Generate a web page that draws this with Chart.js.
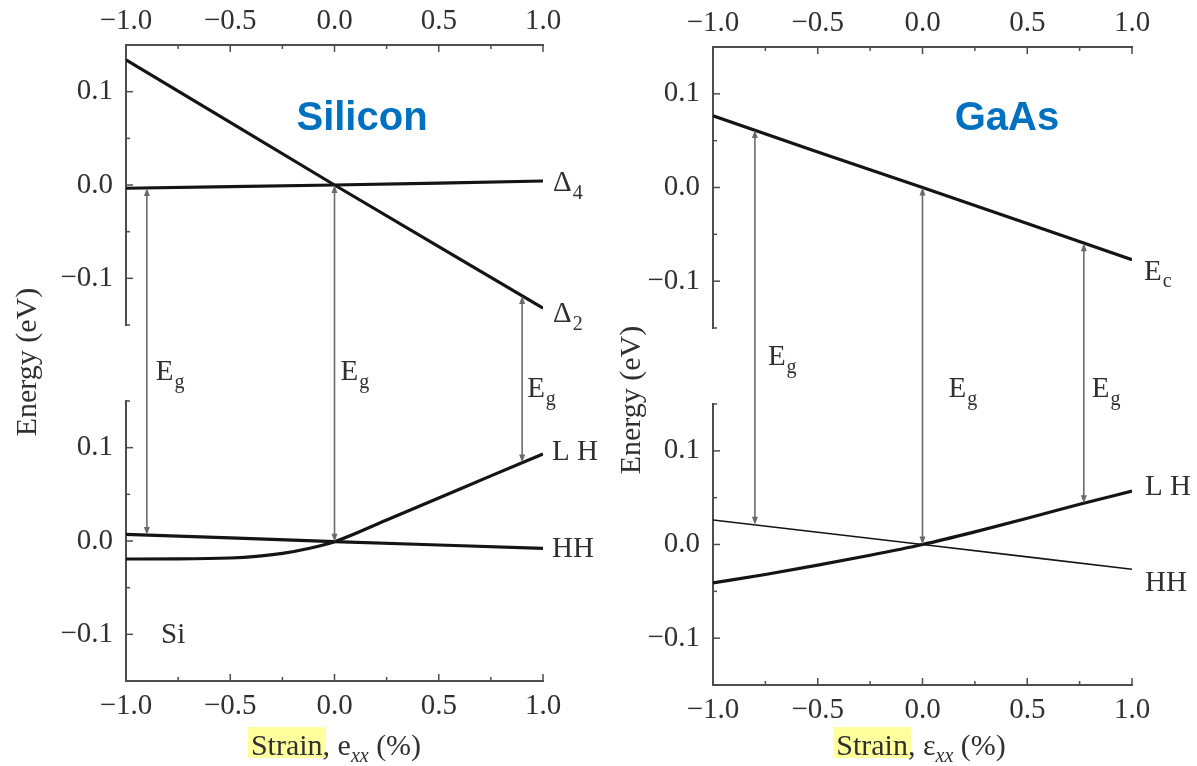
<!DOCTYPE html>
<html>
<head>
<meta charset="utf-8">
<title>Band edges versus strain: Silicon and GaAs</title>
<script src="https://cdn.jsdelivr.net/npm/chart.js@4.4.1/dist/chart.umd.min.js"></script>
<style>
  html, body { margin: 0; padding: 0; background: #ffffff; }
  body { position: relative; width: 1197px; height: 766px; overflow: hidden; }
  canvas { position: absolute; top: 0; }
  #siChart { left: 0; }
  #gaChart { left: 600px; }
</style>
</head>
<body>
<canvas id="siChart" width="600" height="766"></canvas>
<canvas id="gaChart" width="597" height="766"></canvas>
<script>
// ---- shared axis values ----
const strainTicks = [-1.0, -0.5, 0.0, 0.5, 1.0];
const energyTicks = [-0.1, 0.0, 0.1];

// ---- Silicon: conduction valleys (upper) and valence bands (lower), eV ----
const siStrain    = [-1.0, -0.5, 0.0, 0.5, 1.0];
const siDelta2    = [0.134, 0.067, 0.0, -0.066, -0.132];
const siDelta4    = [-0.0035, -0.0017, 0.0, 0.002, 0.0043];
const siHH        = [0.0072, 0.0033, -0.0007, -0.0043, -0.0078];
const siLHStrain  = [-1.0, -0.75, -0.5, -0.375, -0.25, -0.125, 0.0, 0.25, 0.5, 0.75, 1.0];
const siLH        = [-0.0193, -0.0192, -0.0182, -0.0165, -0.0133, -0.0080, -0.0007, 0.0225, 0.0460, 0.0698, 0.0932];
const siGapStrain = [-0.9, 0.0, 0.9];
const siGapTop    = [-0.0031, 0.0, -0.119];
const siGapBottom = [0.0064, -0.0007, 0.0840];

// ---- GaAs ----
const gaStrain    = [-1.0, -0.5, 0.0, 0.5, 1.0];
const gaEc        = [0.0765, 0.038, 0.0, -0.0385, -0.0772];
const gaHH        = [0.0262, 0.0131, 0.0, -0.0132, -0.0265];
const gaLHStrain  = [-1.0, -0.75, -0.5, -0.25, 0.0, 0.25, 0.5, 0.75, 1.0];
const gaLH        = [-0.041, -0.032, -0.022, -0.0115, 0.0, 0.0135, 0.028, 0.043, 0.057];
const gaGapStrain = [-0.8, 0.0, 0.77];
const gaGapTop    = [0.0614, 0.0, -0.0595];
const gaGapBottom = [0.0212, 0.0, 0.0441];

// ---- styling ----
const SERIF = "'Liberation Serif', 'Times New Roman', Times, serif";
const SANS = "'Liberation Sans', Arial, Helvetica, sans-serif";
const TEXT = '#303030';
const AXIS = '#4d4d4d';
const CURVE = '#141414';
const ARROW = '#6a6a6a';
const TITLE_BLUE = '#0070c0';
const HILITE = '#ffff9e';

const fmtTick = v => (Math.abs(v) < 1e-9 ? 0 : v).toFixed(1).replace('-', '\u2212');
const toPoints = (xs, ys) => xs.map((x, i) => ({ x, y: ys[i] }));

function xAxis(position, size, pad) {
  return {
    type: 'linear', position, min: -1, max: 1,
    afterBuildTicks: s => { s.ticks = strainTicks.map(value => ({ value })); },
    afterFit: s => { s.height = size; },
    grid: { display: false, drawTicks: false },
    border: { display: true, color: AXIS, width: 2 },
    ticks: { color: TEXT, font: { family: SERIF, size: 29 }, padding: pad,
             maxRotation: 0, autoSkip: false, callback: fmtTick }
  };
}

// the two energy windows share one stacked left axis column, with an empty spacer between
function yAxis(order, share, width) {
  return {
    type: 'linear', position: 'left', stack: 'energy', stackWeight: share, weight: order,
    min: -0.15, max: 0.15,
    afterBuildTicks: s => { s.ticks = energyTicks.map(value => ({ value })); },
    afterFit: s => { s.width = width; },
    grid: { display: false, drawTicks: false },
    border: { display: true, color: AXIS, width: 2 },
    ticks: { color: TEXT, font: { family: SERIF, size: 29 }, padding: 13, callback: fmtTick }
  };
}
function spacerAxis(share) {
  return {
    type: 'linear', position: 'left', stack: 'energy', stackWeight: share, weight: 2,
    afterFit: s => { s.width = 0; },
    grid: { display: false, drawTicks: false },
    border: { display: false },
    ticks: { display: false }
  };
}

function band(xs, ys, upper, width, smooth) {
  return {
    data: toPoints(xs, ys),
    xAxisID: upper ? 'xTop' : 'xBot',
    yAxisID: upper ? 'yU' : 'yL',
    borderColor: CURVE, borderWidth: width || 3.2,
    pointRadius: 0, fill: false,
    tension: smooth ? 0.35 : 0,
    cubicInterpolationMode: smooth ? 'monotone' : 'default'
  };
}

function subText(ctx, x, y, main, sub, size) {
  ctx.font = `${size}px ${SERIF}`;
  ctx.fillText(main, x, y);
  if (!sub) return;
  const w = ctx.measureText(main).width;
  ctx.font = `${Math.round(size * 0.68)}px ${SERIF}`;
  ctx.fillText(sub, x + w + 1, y + size * 0.26);
}

// inward ticks, Eg arrows, curve labels and titles
const bandDecor = {
  id: 'bandDecor',
  afterDraw(chart, args, o) {
    const { ctx } = chart;
    const { xTop, xBot, yU, yL } = chart.scales;
    const seg = (x1, y1, x2, y2) => { ctx.beginPath(); ctx.moveTo(x1, y1); ctx.lineTo(x2, y2); ctx.stroke(); };
    ctx.save();

    ctx.strokeStyle = AXIS;
    ctx.lineWidth = 1.5;
    for (let i = 0; i <= 8; i++) {
      const v = -1 + i * 0.25, len = i % 2 === 0 ? 7 : 4;
      const px = xTop.getPixelForValue(v);
      seg(px, xTop.bottom, px, xTop.bottom + len);
      seg(px, xBot.top, px, xBot.top - len);
    }
    for (const ax of [yU, yL]) {
      for (let i = 0; i <= 6; i++) {
        const v = -0.15 + i * 0.05, len = i % 2 === 1 ? 7 : 4;
        const py = ax.getPixelForValue(v);
        seg(ax.right, py, ax.right + len, py);
      }
    }

    // band-gap arrows spanning both energy windows
    ctx.strokeStyle = ARROW;
    ctx.fillStyle = ARROW;
    ctx.lineWidth = 1.6;
    const head = (x, y, dir) => {
      ctx.beginPath();
      ctx.moveTo(x, y);
      ctx.lineTo(x - 3, y - dir * 8);
      ctx.lineTo(x + 3, y - dir * 8);
      ctx.closePath();
      ctx.fill();
    };
    o.gap.x.forEach((xv, i) => {
      const px = xTop.getPixelForValue(xv);
      const y1 = yU.getPixelForValue(o.gap.top[i]);
      const y2 = yL.getPixelForValue(o.gap.bottom[i]);
      seg(px, y1 + 3, px, y2 - 3);
      head(px, y1, -1);
      head(px, y2, 1);
    });

    ctx.fillStyle = TEXT;
    ctx.textAlign = 'left';
    ctx.textBaseline = 'alphabetic';
    o.gapLabels.forEach((g, i) => {
      const px = xTop.getPixelForValue(o.gap.x[i]) + g.dx;
      subText(ctx, px, yU.bottom + g.dy, 'E', 'g', 29);
    });

    o.ends.forEach(e => {
      const ax = chart.scales[e.axis];
      subText(ctx, xTop.getPixelForValue(e.x) + e.dx, ax.getPixelForValue(e.y) + e.dy, e.main, e.sub, 29);
    });

    if (o.tag) {
      ctx.font = `29px ${SERIF}`;
      ctx.fillText(o.tag.text, xBot.getPixelForValue(o.tag.x), yL.getPixelForValue(o.tag.y) + o.tag.dy);
    }

    // material name
    ctx.fillStyle = TITLE_BLUE;
    ctx.font = `bold 40px ${SANS}`;
    ctx.textAlign = 'center';
    ctx.fillText(o.title.text, xTop.getPixelForValue(o.title.x), yU.getPixelForValue(o.title.y));

    // energy axis title
    ctx.fillStyle = TEXT;
    ctx.save();
    ctx.translate(o.yTitle.x, o.yTitle.y);
    ctx.rotate(-Math.PI / 2);
    ctx.font = `30px ${SERIF}`;
    ctx.textAlign = 'center';
    ctx.textBaseline = 'middle';
    ctx.fillText('Energy (eV)', 0, 0);
    ctx.restore();

    // strain axis title with highlighted word
    const big = `30px ${SERIF}`, small = `italic 20px ${SERIF}`;
    const parts = [['Strain', big, 0], [', ' + o.xTitle.sym, big, 0], ['xx', small, 7], [' (%)', big, 0]];
    const widths = parts.map(p => { ctx.font = p[1]; return ctx.measureText(p[0]).width; });
    const total = widths.reduce((a, b) => a + b, 0);
    let x = o.xTitle.cx - total / 2;
    const base = o.xTitle.base;
    ctx.fillStyle = HILITE;
    ctx.fillRect(x - 3, base - 28, widths[0] + 6, 31);
    ctx.fillStyle = TEXT;
    ctx.textAlign = 'left';
    ctx.textBaseline = 'alphabetic';
    parts.forEach((p, i) => {
      ctx.font = p[1];
      ctx.fillText(p[0], x, base + p[2]);
      x += widths[i];
    });

    ctx.restore();
  }
};

function makePanel(id, cfg) {
  return new Chart(document.getElementById(id), {
    type: 'line',
    data: { datasets: cfg.datasets },
    options: {
      responsive: false,
      animation: false,
      devicePixelRatio: 1,
      layout: { padding: { left: 0, top: 0, right: cfg.padRight, bottom: 0 } },
      scales: {
        xTop: xAxis('top', cfg.topH, 6),
        xBot: xAxis('bottom', cfg.botH, 8),
        yU: yAxis(3, cfg.hU, cfg.yW),
        yGap: spacerAxis(cfg.hGap),
        yL: yAxis(1, cfg.hL, cfg.yW)
      },
      plugins: {
        legend: { display: false },
        tooltip: { enabled: false },
        bandDecor: cfg.decor
      }
    },
    plugins: [bandDecor]
  });
}

makePanel('siChart', {
  padRight: 57, topH: 45, botH: 85, yW: 126, hU: 280, hGap: 76, hL: 280,
  datasets: [
    band(siStrain, siDelta2, true),
    band(siStrain, siDelta4, true),
    band(siStrain, siHH, false),
    band(siLHStrain, siLH, false, 3.2, true)
  ],
  decor: {
    gap: { x: siGapStrain, top: siGapTop, bottom: siGapBottom },
    gapLabels: [{ dx: 9, dy: 55 }, { dx: 6, dy: 55 }, { dx: 5, dy: 72 }],
    ends: [
      { main: '\u0394', sub: '4', axis: 'yU', x: 1, y: siDelta4[siDelta4.length - 1], dx: 10, dy: 10 },
      { main: '\u0394', sub: '2', axis: 'yU', x: 1, y: siDelta2[siDelta2.length - 1], dx: 10, dy: 14 },
      { main: 'L H', axis: 'yL', x: 1, y: siLH[siLH.length - 1], dx: 9, dy: 6 },
      { main: 'HH', axis: 'yL', x: 1, y: siHH[siHH.length - 1], dx: 9, dy: 9 }
    ],
    tag: { text: 'Si', x: -0.832, y: -0.1, dy: 9 },
    title: { text: 'Silicon', x: 0.132, y: 0.059 },
    yTitle: { x: 28, y: 362 },
    xTitle: { cx: 336, base: 755, sym: 'e' }
  }
});

makePanel('gaChart', {
  padRight: 65, topH: 47, botH: 81, yW: 113, hU: 281, hGap: 76, hL: 281,
  datasets: [
    band(gaStrain, gaEc, true),
    band(gaStrain, gaHH, false, 1.6),
    band(gaLHStrain, gaLH, false, 3.2, true)
  ],
  decor: {
    gap: { x: gaGapStrain, top: gaGapTop, bottom: gaGapBottom },
    gapLabels: [{ dx: 13, dy: 37 }, { dx: 26, dy: 69 }, { dx: 8, dy: 69 }],
    ends: [
      { main: 'E', sub: 'c', axis: 'yU', x: 1, y: gaEc[gaEc.length - 1], dx: 12, dy: 20 },
      { main: 'L H', axis: 'yL', x: 1, y: gaLH[gaLH.length - 1], dx: 13, dy: 4 },
      { main: 'HH', axis: 'yL', x: 1, y: gaHH[gaHH.length - 1], dx: 13, dy: 22 }
    ],
    title: { text: 'GaAs', x: 0.403, y: 0.061 },
    yTitle: { x: 32, y: 400 },
    xTitle: { cx: 321, base: 755, sym: '\u03b5' }
  }
});
</script>
</body>
</html>
